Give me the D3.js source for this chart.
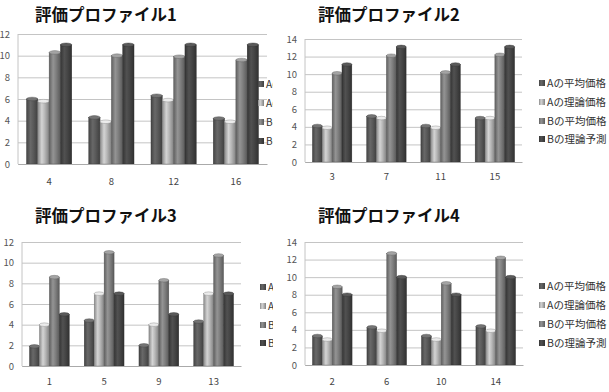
<!DOCTYPE html>
<html>
<head>
<meta charset="utf-8">
<script src="https://cdn.jsdelivr.net/npm/d3@7"></script>
<style>
  body { margin: 0; background: #fff; }
  text { font-family: "Noto Sans CJK JP", "Noto Sans", sans-serif; }
</style>
</head>
<body>
<svg id="chart" width="609" height="392"></svg>
<script>
// data
var seriesNames = ["Aの平均価格", "Aの理論価格", "Bの平均価格", "Bの理論予測"];
var titles = ["評価プロファイル1", "評価プロファイル2", "評価プロファイル3", "評価プロファイル4"];

var p1Cats = ["4", "8", "12", "16"];
var p1Values = [[6.0, 5.8, 10.3, 11.0], [4.3, 3.9, 10.0, 11.0], [6.3, 5.9, 9.9, 11.0], [4.2, 3.9, 9.6, 11.0]];

var p2Cats = ["3", "7", "11", "15"];
var p2Values = [[4.1, 3.9, 10.1, 11.1], [5.2, 5.0, 12.1, 13.1], [4.1, 3.9, 10.2, 11.1], [5.0, 5.0, 12.2, 13.1]];

var p3Cats = ["1", "5", "9", "13"];
var p3Values = [[1.9, 4.0, 8.6, 5.0], [4.4, 7.0, 11.0, 7.0], [2.0, 4.0, 8.3, 5.0], [4.3, 7.0, 10.7, 7.0]];

var p4Cats = ["2", "6", "10", "14"];
var p4Values = [[3.3, 2.9, 8.9, 8.0], [4.3, 3.9, 12.7, 10.0], [3.3, 2.9, 9.3, 8.0], [4.4, 3.9, 12.2, 10.0]];

var yTicks12 = [0, 2, 4, 6, 8, 10, 12];
var yTicks14 = [0, 2, 4, 6, 8, 10, 12, 14];

// look
var baseColors = ["#5a5a5a", "#b8b8b8", "#808080", "#464646"];

var svg = d3.select("#chart");
var defs = svg.append("defs");

baseColors.forEach(function (c, i) {
    var g = defs.append("linearGradient").attr("id", "grad" + i)
        .attr("x1", "0%").attr("x2", "100%").attr("y1", "0%").attr("y2", "0%");
    var col = d3.color(c);
    g.append("stop").attr("offset", "0%").attr("stop-color", col.darker(0.8));
    g.append("stop").attr("offset", "35%").attr("stop-color", col.brighter(0.4));
    g.append("stop").attr("offset", "60%").attr("stop-color", col);
    g.append("stop").attr("offset", "100%").attr("stop-color", col.darker(1));
});

// left panels have their legend cut off by the right panels
defs.append("clipPath").attr("id", "cutLeft")
    .append("rect").attr("x", 0).attr("y", 0).attr("width", 273).attr("height", 392);

var panels = [
    {cats: p1Cats, values: p1Values, ticks: yTicks12, max: 12, title: titles[0], cut: true,
        bg: [0, 0], left: 18, right: 267, top: 34, bottom: 164, titleX: 35, titleY: 21,
        legX: 258, legY: [84, 103, 122, 141], xLabY: 187},
    {cats: p3Cats, values: p3Values, ticks: yTicks12, max: 12, title: titles[2], cut: true,
        bg: [0, 196], left: 22, right: 241, top: 242, bottom: 366, titleX: 35, titleY: 222,
        legX: 260, legY: [287, 306, 325, 343], xLabY: 387},
    {cats: p2Cats, values: p2Values, ticks: yTicks14, max: 14, title: titles[1], cut: false,
        bg: [273, 0], left: 305, right: 522, top: 39, bottom: 162, titleX: 318, titleY: 21,
        legX: 539, legY: [83, 102, 121, 139], xLabY: 182},
    {cats: p4Cats, values: p4Values, ticks: yTicks14, max: 14, title: titles[3], cut: false,
        bg: [273, 196], left: 305, right: 523, top: 242, bottom: 365, titleX: 318, titleY: 222,
        legX: 539, legY: [286, 305, 324, 343], xLabY: 387}
];

panels.forEach(function (p) {
    var g = svg.append("g");

    // white chart area
    g.append("rect")
        .attr("x", p.bg[0]).attr("y", p.bg[1])
        .attr("width", 609 - p.bg[0]).attr("height", 196)
        .attr("fill", "#fff");

    g.append("text")
        .attr("x", p.titleX).attr("y", p.titleY)
        .attr("font-size", "16.5px").attr("font-weight", "bold")
        .attr("fill", "#111")
        .text(p.title);

    var w = p.right - p.left;
    var y = d3.scaleLinear().domain([0, p.max]).range([p.bottom, p.top]);
    var x0 = d3.scaleBand().domain(p.cats).range([p.left, p.right]).padding(0);
    var x1 = d3.scaleBand().domain(d3.range(4)).range([0, x0.bandwidth()])
        .paddingInner(0).paddingOuter(0.75);

    // grid + y labels
    var yAxis = g.append("g")
        .attr("transform", "translate(" + p.left + ",0)")
        .call(d3.axisLeft(y).tickValues(p.ticks).tickSize(-w).tickPadding(8));
    yAxis.select(".domain").remove();
    yAxis.selectAll("line").attr("stroke", "#c4c4c4");
    yAxis.selectAll("text")
        .attr("font-size", "9.5px").attr("fill", "#555")
        .style("font-family", "'Noto Sans CJK JP', sans-serif");

    g.append("line")
        .attr("x1", p.left).attr("x2", p.left)
        .attr("y1", p.top).attr("y2", p.bottom)
        .attr("stroke", "#c4c4c4");

    // bars
    var groups = g.selectAll(".grp")
        .data(p.values)
        .enter().append("g")
        .attr("class", "grp")
        .attr("transform", function (d, i) { return "translate(" + x0(p.cats[i]) + ",0)"; });

    var bw = x1.bandwidth();
    var bar = groups.selectAll(".bar")
        .data(function (d) { return d.map(function (v, k) { return {v: v, k: k}; }); })
        .enter().append("g").attr("class", "bar");

    bar.append("rect")
        .attr("x", function (d) { return x1(d.k); })
        .attr("y", function (d) { return y(d.v); })
        .attr("width", bw)
        .attr("height", function (d) { return p.bottom - y(d.v); })
        .attr("fill", function (d) { return "url(#grad" + d.k + ")"; })
        .attr("stroke", function (d) { return d3.color(baseColors[d.k]).darker(1.2); })
        .attr("stroke-width", 0.4);

    bar.append("ellipse")
        .attr("cx", function (d) { return x1(d.k) + bw / 2; })
        .attr("cy", function (d) { return y(d.v); })
        .attr("rx", bw / 2)
        .attr("ry", 1.8)
        .attr("fill", function (d) { return d3.color(baseColors[d.k]).brighter(0.7); })
        .attr("stroke", function (d) { return d3.color(baseColors[d.k]).darker(1); })
        .attr("stroke-width", 0.4);

    // x axis
    var xAxis = g.append("g")
        .attr("transform", "translate(0," + p.bottom + ")")
        .call(d3.axisBottom(x0).tickSize(0).tickPadding(p.xLabY - p.bottom - 9));
    xAxis.select(".domain").attr("stroke", "#aaa");
    xAxis.selectAll("text")
        .attr("font-size", "9.5px").attr("fill", "#444")
        .style("font-family", "'Noto Sans CJK JP', sans-serif");

    // legend
    var legWrap = g.append("g");
    if (p.cut) legWrap.attr("clip-path", "url(#cutLeft)");
    var leg = legWrap.selectAll(".leg")
        .data(seriesNames)
        .enter().append("g")
        .attr("class", "leg")
        .attr("transform", function (d, i) { return "translate(" + p.legX + "," + p.legY[i] + ")"; });
    leg.append("rect")
        .attr("x", 0).attr("y", -3).attr("width", 6).attr("height", 6)
        .attr("fill", function (d, i) { return "url(#grad" + i + ")"; });
    leg.append("text")
        .attr("x", 8).attr("y", 0).attr("dy", "0.36em")
        .attr("font-size", p.cut ? "10px" : "10.5px").attr("fill", "#333")
        // only the start of the name shows before the next chart covers it
        .text(function (d) { return p.cut ? d.slice(0, 2) : d; });
});
</script>
</body>
</html>
